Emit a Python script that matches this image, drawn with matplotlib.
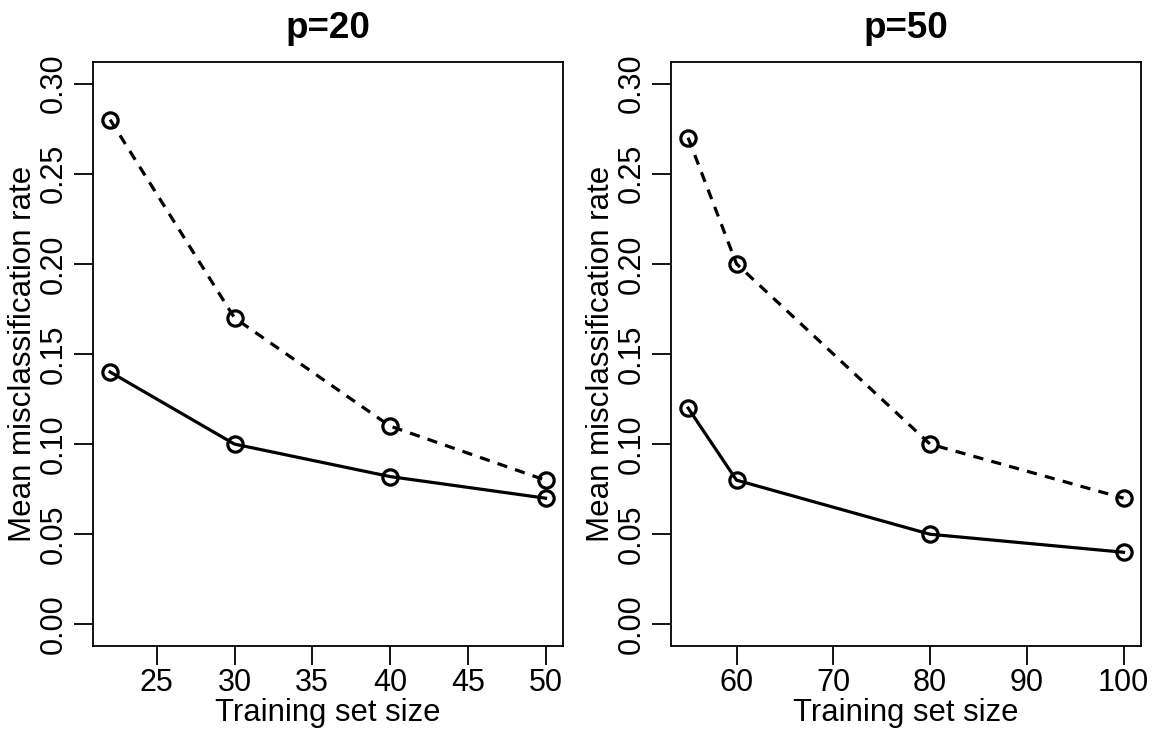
import matplotlib
matplotlib.use('Agg')
import matplotlib.pyplot as plt

plt.rcParams['font.family'] = ['Liberation Sans', 'DejaVu Sans']

# p=20 panel
x_p20 = [22, 30, 40, 50]
solid_p20 = [0.14, 0.10, 0.082, 0.07]
dashed_p20 = [0.28, 0.17, 0.11, 0.08]

# p=50 panel
x_p50 = [55, 60, 80, 100]
solid_p50 = [0.12, 0.08, 0.05, 0.04]
dashed_p50 = [0.27, 0.20, 0.10, 0.07]

titles = ['p=20', 'p=50']
yticks = [0.00, 0.05, 0.10, 0.15, 0.20, 0.25, 0.30]
xticks_p20 = [25, 30, 35, 40, 45, 50]
xticks_p50 = [60, 70, 80, 90, 100]

fig = plt.figure(figsize=(11.6, 7.36), dpi=100)
ax1 = fig.add_axes([0.0799, 0.1223, 0.4054, 0.7935])
ax2 = fig.add_axes([0.5782, 0.1223, 0.4054, 0.7935])


def draw_panel(ax, x, solid, dashed, title, xticks):
    style = dict(color='black', lw=2.3, marker='o', markersize=11,
                 markerfacecolor='none', markeredgewidth=2.3)
    ax.plot(x, dashed, ls=(0, (3.2, 2.6)), **style)
    ax.plot(x, solid, ls='-', **style)
    span = x[-1] - x[0]
    ax.set_xlim(x[0] - 0.04 * span, x[-1] + 0.04 * span)
    ax.set_ylim(-0.012, 0.312)
    ax.set_xticks(xticks)
    ax.set_yticks(yticks)
    ax.set_yticklabels(['%.2f' % v for v in yticks], rotation=90, va='center')
    ax.tick_params(direction='out', length=13.5, width=1.3, labelsize=22, pad=4)
    ax.tick_params(axis='x', pad=2)
    for s in ax.spines.values():
        s.set_linewidth(1.3)
    ax.set_title(title, fontsize=26.5, fontweight='bold', pad=17.5)
    ax.set_xlabel('Training set size', fontsize=22.3, labelpad=0)
    ax.set_ylabel('Mean misclassification rate', fontsize=22.5, labelpad=0)


draw_panel(ax1, x_p20, solid_p20, dashed_p20, titles[0], xticks_p20)
draw_panel(ax2, x_p50, solid_p50, dashed_p50, titles[1], xticks_p50)

fig.savefig('out.png', dpi=100)
